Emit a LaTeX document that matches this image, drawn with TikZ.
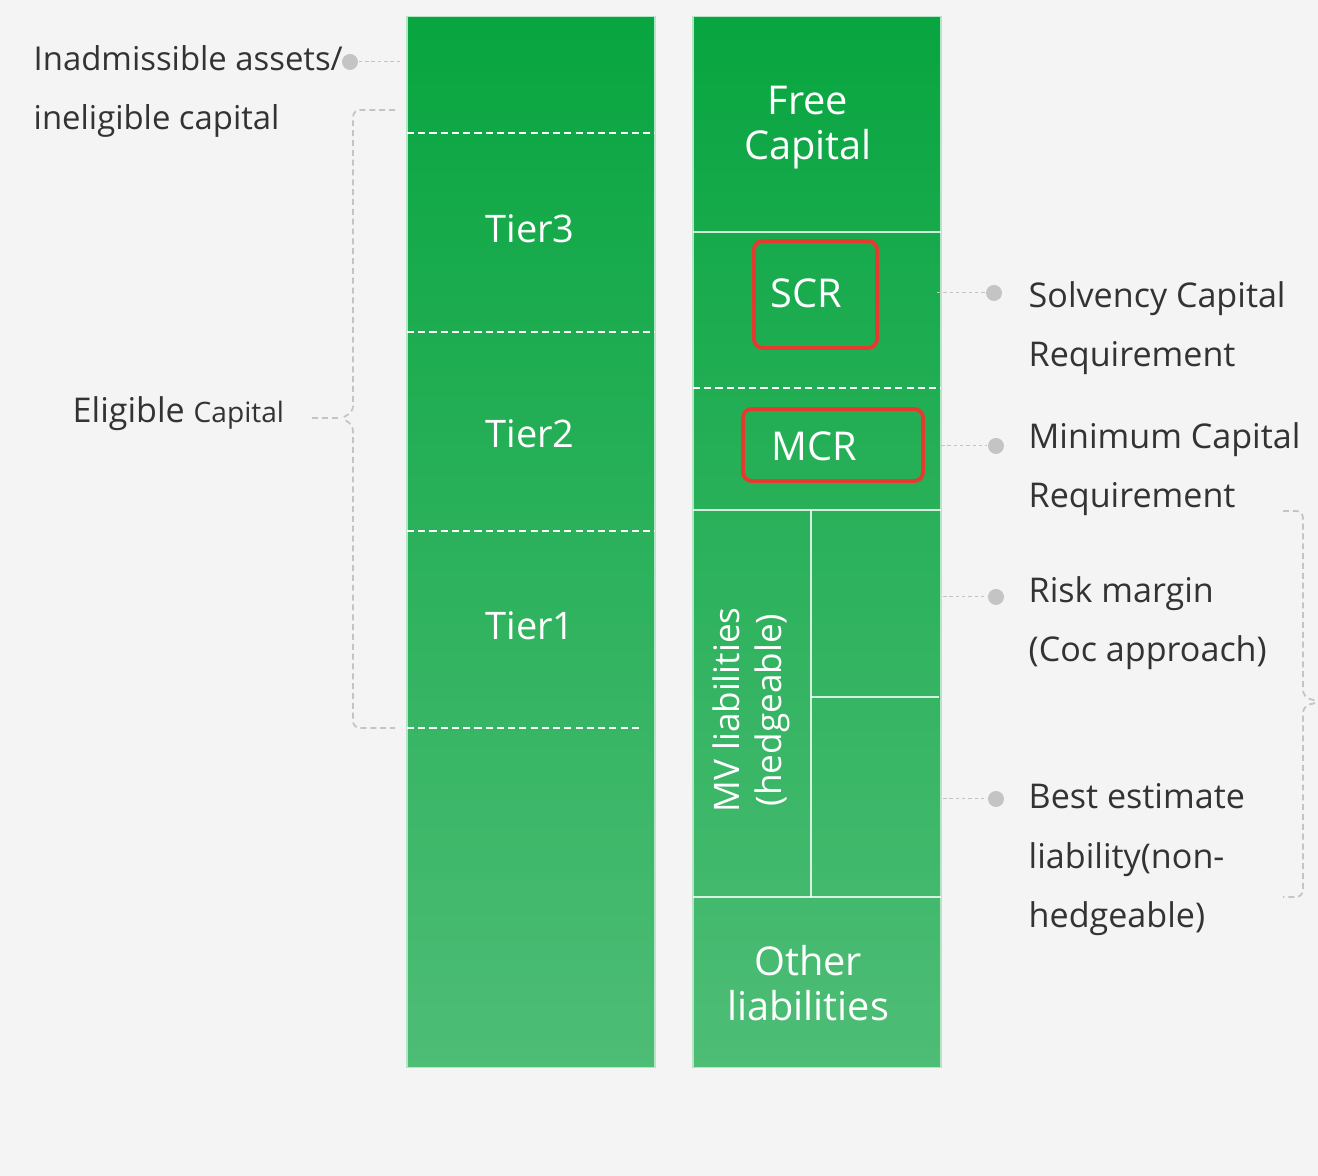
\documentclass[tikz,border=0pt]{standalone}
\usepackage{xcolor}
\usepackage{fontspec}
\setmainfont{Open Sans}
\usepackage{tikz}

\definecolor{bgcol}{HTML}{F4F4F4}
\definecolor{gtop}{HTML}{08A540}
\definecolor{gbot}{HTML}{4EBD76}
\definecolor{txt}{HTML}{333333}
\definecolor{redc}{HTML}{E53A2E}
\definecolor{dotc}{HTML}{C4C4C4}

\begin{document}
\begin{tikzpicture}[
  col/.style={top color=gtop,bottom color=gbot,draw=white!70!gtop,line width=0.3pt},
  cut/.style={draw=white,line width=0.45pt,dash pattern=on 2pt off 1.2pt},
  sep/.style={draw=white,draw opacity=0.8,line width=0.5pt},
  lab/.style={text=white,font=\fontsize{11.3}{12.8}\selectfont,align=center},
  note/.style={text=txt,font=\fontsize{9.7}{17}\selectfont,align=left,
               anchor=base west,inner sep=0pt},
  redbox/.style={draw=redc,line width=1.1pt,rounded corners=2.5pt,
                 minimum width=1.23cm,minimum height=1.07cm},
  pin/.style={circle,fill=dotc,inner sep=0pt,minimum size=0.16cm},
  lead/.style={draw=dotc,line width=0.3pt,dash pattern=on 1pt off 0.8pt},
  brc/.style={draw=dotc,line width=0.5pt,dash pattern=on 1.7pt off 1.1pt,rounded corners=2pt}]

  \fill[bgcol] (0,0) rectangle (13.18,11.76);
  \useasboundingbox (0,0) rectangle (13.18,11.76);

  % the two columns
  \path[col] (4.07,1.08) rectangle (6.55,11.59);
  \path[col] (6.93,1.08) rectangle (9.41,11.59);

  % own funds tiers
  \draw[cut] (4.07,10.43) -- (6.55,10.43);
  \draw[cut] (4.07,8.44) -- (6.55,8.44);
  \draw[cut] (4.07,6.45) -- (6.55,6.45);
  \draw[cut] (4.07,4.48) -- (6.42,4.48);

  % balance sheet side
  \draw[sep] (6.93,9.44) -- (9.41,9.44);
  \draw[cut] (6.93,7.88) -- (9.41,7.88);
  \draw[sep] (6.93,6.66) -- (9.41,6.66);
  \draw[sep] (8.11,6.66) -- (8.11,2.79);
  \draw[sep] (8.11,4.79) -- (9.39,4.79);
  \draw[sep] (6.93,2.79) -- (9.41,2.79);

  \node[lab,font=\fontsize{10.8}{12.8}\selectfont] (tierthree) at (5.30,9.47) {Tier3};
  \node[lab,font=\fontsize{10.8}{12.8}\selectfont] (tiertwo)   at (5.30,7.42) {Tier2};
  \node[lab,font=\fontsize{10.8}{12.8}\selectfont] (tierone)   at (5.30,5.50) {Tier1};

  \node[lab] (free)  at (8.08,10.48) {Free\\Capital};
  \node[lab] (scr)   at (8.06,8.83)  {SCR};
  \node[lab] (mcr)   at (8.14,7.30)  {MCR};
  \node[lab,rotate=90,font=\fontsize{10}{12}\selectfont] (mv) at (7.51,4.66)
    {MV liabilities\\(hedgeable)};
  \node[lab] (other) at (8.08,1.93)  {Other\\liabilities};

  \node[redbox] (scrbox) at (8.155,8.815) {};
  \node[redbox,minimum width=1.80cm,minimum height=0.72cm] (mcrbox) at (8.33,7.31) {};

  % labels on the left
  \node[pin] (dotinad) at (3.50,11.14) {};
  \coordinate (inadedge) at (4.00,11.14);
  \draw[lead] (dotinad) -- (inadedge);

  \node[note,font=\fontsize{9.35}{17}\selectfont] (inadm) at (0.33,10.46)
    {Inadmissible assets/\\ineligible capital};
  \node[note] (eligible) at (0.72,7.53)
    {Eligible {\fontsize{8}{10}\selectfont Capital}};

  \coordinate (eltip) at (3.40,7.58);
  \coordinate (elend) at (3.12,7.58);
  \draw[brc] (3.95,10.66) -- (3.53,10.66) -- (3.53,7.63) -- (eltip)
    -- (3.53,7.52) -- (3.53,4.48) -- (3.95,4.48);
  \draw[brc] (elend) -- (eltip);

  % labels on the right
  \node[note] (solv)   at (10.28,8.09) {Solvency Capital\\Requirement};
  \node[note] (mincap) at (10.28,6.68) {Minimum Capital\\Requirement};
  \node[note] (risk)   at (10.28,5.14) {Risk margin\\(Coc approach)};
  \node[note] (best)   at (10.28,2.48) {Best estimate\\liability(non-\\hedgeable)};

  \node[pin] (dotscr)  at (9.94,8.83) {};
  \node[pin] (dotmcr)  at (9.96,7.30) {};
  \node[pin] (dotrisk) at (9.96,5.79) {};
  \node[pin] (dotbel)  at (9.96,3.77) {};

  \coordinate (scredge)  at (9.37,8.83);
  \coordinate (mcredge)  at (9.41,7.30);
  \coordinate (riskedge) at (9.43,5.79);
  \coordinate (beledge)  at (9.43,3.77);

  \draw[lead] (scredge) -- (dotscr);
  \draw[lead] (mcredge) -- (dotmcr);
  \draw[lead] (riskedge) -- (dotrisk);
  \draw[lead] (beledge) -- (dotbel);

  \coordinate (brtip) at (13.20,4.74);
  \draw[brc] (12.83,6.65) -- (13.03,6.65) -- (13.03,4.79) -- (brtip)
    -- (13.03,4.70) -- (13.03,2.79) -- (12.83,2.79);

\end{tikzpicture}
\end{document}
